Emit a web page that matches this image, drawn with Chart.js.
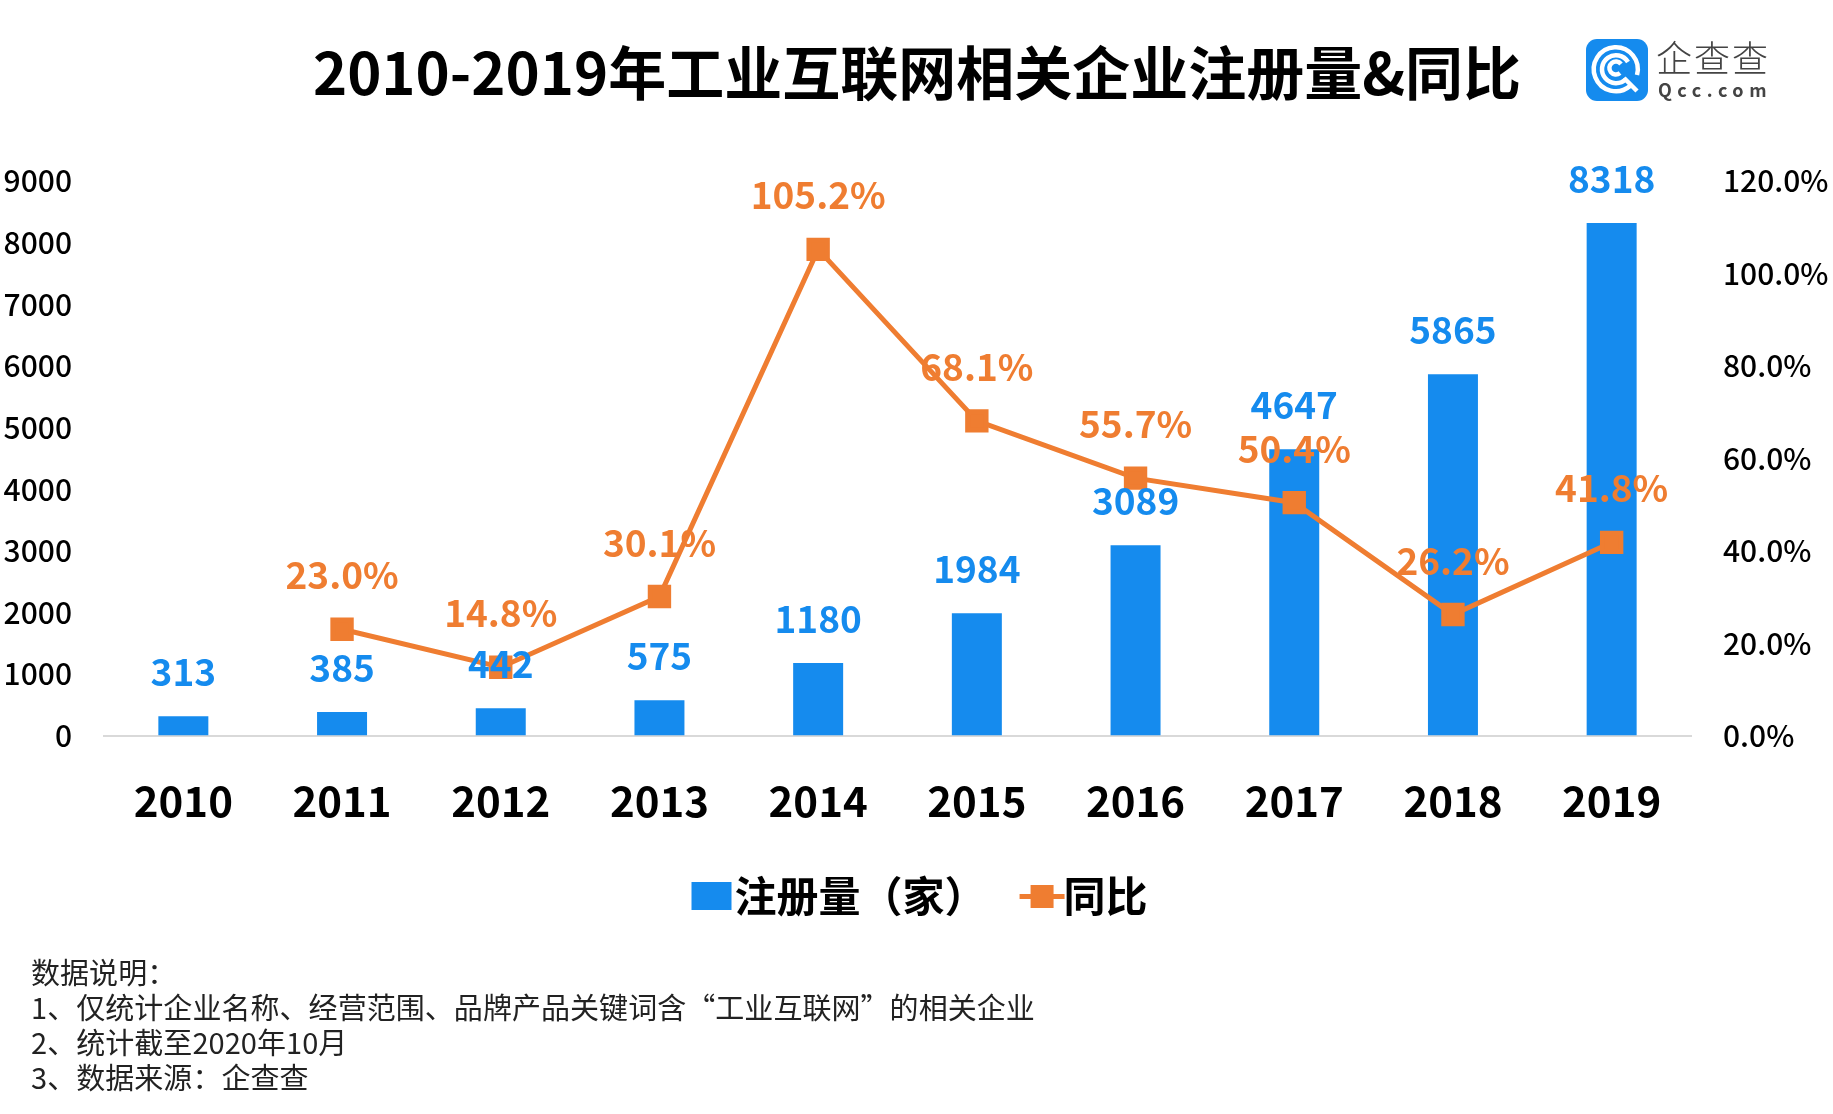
<!DOCTYPE html>
<html>
<head>
<meta charset="utf-8">
<style>
  html, body { margin: 0; padding: 0; background: #fff; }
  body { width: 1833px; height: 1114px; overflow: hidden; position: relative; font-family: "Noto Sans CJK SC", sans-serif; }
  #wrap { position: absolute; left: 0; top: 0; width: 1833px; height: 1114px; }
  #title { position: absolute; left: 297px; top: 30px; width: 1240px; text-align: center; font-size: 58px; font-weight: 700; color: #000; line-height: 80px; white-space: nowrap; }
  #notes { position: absolute; left: 31px; top: 954px; font-size: 29px; letter-spacing: 0.05px; line-height: 35px; color: #222; white-space: nowrap; }
  #logoText { position: absolute; left: 1656px; top: 33px; font-size: 36px; font-weight: 300; letter-spacing: 2px; color: #444; line-height: 46px; }
  #logoSub { position: absolute; left: 1658px; top: 78px; font-size: 18px; font-weight: 700; letter-spacing: 5.5px; color: #444; line-height: 22px; }
  #logoMark { position: absolute; left: 1586px; top: 39px; }
</style>
</head>
<body>
<div id="wrap"><canvas id="c" width="1833" height="1114"></canvas></div>
<div id="title">2010-2019年工业互联网相关企业注册量&amp;同比</div>
<svg id="logoMark" width="62" height="62" viewBox="0 0 62 62">
  <rect width="62" height="62" rx="11" fill="#158bee"/>
  <g fill="none" stroke="#fff" stroke-width="4.5">
    <path d="M44 47 A22 22 0 1 1 51 36 M38 39 L51 52"/>
    <path d="M40 40 A14 14 0 1 1 42 23"/>
    <path d="M34 34 A6.5 6.5 0 1 1 35 25"/>
  </g>
</svg>
<div id="logoText">企查查</div>
<div id="logoSub">Qcc.com</div>
<div id="notes">数据说明：<br>1、仅统计企业名称、经营范围、品牌产品关键词含“工业互联网”的相关企业<br>2、统计截至2020年10月<br>3、数据来源：企查查</div>
<script src="https://cdn.jsdelivr.net/npm/chart.js@4/dist/chart.umd.min.js"></script>
<script>
const years = ['2010', '2011', '2012', '2013', '2014', '2015', '2016', '2017', '2018', '2019'];
const registered = [313, 385, 442, 575, 1180, 1984, 3089, 4647, 5865, 8318];
const yoy = [null, 23.0, 14.8, 30.1, 105.2, 68.1, 55.7, 50.4, 26.2, 41.8];

const blue = '#158bee';
const orange = '#ef7d31';
const fontName = '"Noto Sans CJK SC"';

// legend swatches, the canvas has a blank left margin to pull the text closer
function barSwatch() {
    const s = document.createElement('canvas');
    s.width = 66; s.height = 28;
    const g = s.getContext('2d');
    g.fillStyle = blue;
    g.fillRect(25, 0, 40, 28);
    return s;
}
function lineSwatch() {
    const s = document.createElement('canvas');
    s.width = 74; s.height = 28;
    const g = s.getContext('2d');
    g.fillStyle = orange;
    g.fillRect(28, 12, 45, 5);
    g.fillRect(39, 3, 23, 23);
    return s;
}

// value labels, drawn next to each mark
const labelPlugin = {
    id: 'valueLabels',
    afterDatasetsDraw(chart) {
        const c = chart.ctx;
        c.save();
        c.textAlign = 'center';
        c.textBaseline = 'middle';
        c.font = '700 37px ' + fontName;
        chart.getDatasetMeta(0).data.forEach((el, i) => {
            c.fillStyle = blue;
            c.fillText(registered[i], el.x, el.y - 44);
        });
        chart.getDatasetMeta(1).data.forEach((el, i) => {
            if (yoy[i] === null) return;
            c.fillStyle = orange;
            c.fillText(yoy[i].toFixed(1) + '%', el.x, el.y - 54);
        });
        c.restore();
    }
};

new Chart(document.getElementById('c').getContext('2d'), {
    type: 'bar',
    data: {
        labels: years,
        datasets: [
            { type: 'bar', label: '注册量（家）', data: registered, backgroundColor: blue, yAxisID: 'y', barPercentage: 0.63, categoryPercentage: 0.5, order: 2 },
            { type: 'line', label: '同比', data: yoy, borderColor: orange, backgroundColor: orange, borderWidth: 5, pointStyle: 'rect', pointRadius: 13, pointBackgroundColor: orange, pointBorderColor: orange, tension: 0, yAxisID: 'y1', order: 1 }
        ]
    },
    options: {
        responsive: false,
        animation: false,
        layout: { padding: { left: 0, right: 0, top: 181, bottom: 187 } },
        plugins: {
            title: { display: false },
            tooltip: { enabled: false },
            legend: {
                position: 'bottom',
                labels: {
                    font: { size: 42, weight: '700', family: fontName },
                    color: '#000',
                    usePointStyle: true,
                    pointStyleWidth: 28,
                    padding: 28,
                    generateLabels: () => [
                        { text: '注册量（家）', pointStyle: barSwatch(), datasetIndex: 0, fontColor: '#000' },
                        { text: '同比', pointStyle: lineSwatch(), datasetIndex: 1, fontColor: '#000' }
                    ]
                }
            }
        },
        scales: {
            x: {
                grid: { display: false, drawTicks: false },
                border: { color: '#d9d9d9', width: 2 },
                afterFit(a) { a.height -= 19; },
                ticks: { font: { size: 42, weight: '700', family: fontName }, color: '#000', padding: 40 }
            },
            y: {
                min: 0, max: 9000,
                grid: { display: false, drawTicks: false },
                border: { display: false },
                afterFit(a) { a.width = 104; },
                ticks: { stepSize: 1000, callback: v => String(v), font: { size: 30, weight: '500', family: fontName }, color: '#000', padding: 32 }
            },
            y1: {
                position: 'right', min: 0, max: 120,
                grid: { display: false, drawTicks: false },
                border: { display: false },
                afterFit(a) { a.width = 142; },
                ticks: { stepSize: 20, callback: v => v.toFixed(1) + '%', font: { size: 30, weight: '500', family: fontName }, color: '#000', padding: 32 }
            }
        }
    },
    plugins: [labelPlugin]
});
</script>
</body>
</html>
